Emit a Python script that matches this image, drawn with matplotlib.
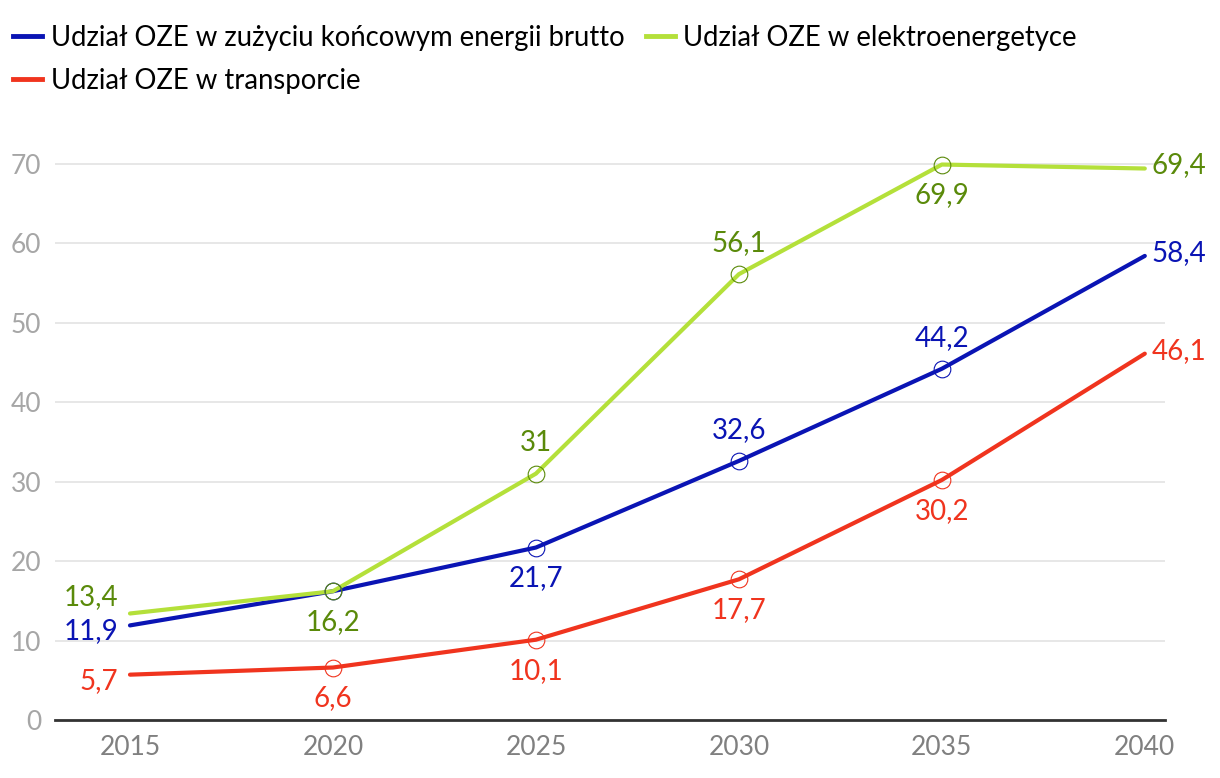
import matplotlib.pyplot as plt
from matplotlib.lines import Line2D

plt.rcParams['font.family'] = ['Lato', 'DejaVu Sans']

years = [2015, 2020, 2025, 2030, 2035, 2040]
brutto = [11.9, 16.2, 21.7, 32.6, 44.2, 58.4]
elektro = [13.4, 16.2, 31.0, 56.1, 69.9, 69.4]
transport = [5.7, 6.6, 10.1, 17.7, 30.2, 46.1]

names = ['Udział OZE w zużyciu końcowym energii brutto',
         'Udział OZE w elektroenergetyce',
         'Udział OZE w transporcie']

blue = '#0a14b4'
green = '#b4e03a'
green_txt = '#5a8a0a'
red = '#f0341e'

# where each label goes: 'l' left, 'r' right, 'a' above, 'b' below, None = no label
pos_brutto = ['l', None, 'b', 'a', 'a', 'r']
pos_elektro = ['la', 'b', 'a', 'a', 'b', 'r']
pos_transport = ['l', 'b', 'b', 'b', 'b', 'r']

fig = plt.figure(figsize=(12.2, 7.78), dpi=100)
ax = fig.add_axes([0.045, 0.0746, 0.91, 0.766])

series = [(brutto, blue, blue, blue, pos_brutto),
          (elektro, green, green_txt, green_txt, pos_elektro),
          (transport, red, red, red, pos_transport)]

for vals, lc, mc, tc, pos in series:
    ax.plot(years, vals, color=lc, lw=3, solid_capstyle='round', zorder=3)
    ax.plot(years[1:-1], vals[1:-1], 'o', ms=12, mfc='none', mec=mc, mew=0.8,
            zorder=4, linestyle='none')
    for x, v, p in zip(years, vals, pos):
        if p is None:
            continue
        txt = ('%g' % v).replace('.', ',')
        if p == 'l':
            off, ha, va = (-12, -6), 'right', 'center'
        elif p == 'la':
            off, ha, va = (-12, 16), 'right', 'center'
        elif p == 'r':
            off, ha, va = (7, 3), 'left', 'center'
        elif p == 'a':
            off, ha, va = (0, 31), 'center', 'center'
        else:
            off, ha, va = (0, -31), 'center', 'center'
        ax.annotate(txt, (x, v), xytext=off, textcoords='offset pixels',
                    ha=ha, va=va, color=tc, fontsize=20, zorder=5)

ax.set_xlim(2013.15, 2040.5)
ax.set_ylim(0, 75)
ax.set_xticks(years)
ax.set_yticks(range(0, 71, 10))
ax.grid(axis='y', color='#e3e3e3', lw=1.2)
ax.set_axisbelow(True)
for s in ['top', 'right', 'left']:
    ax.spines[s].set_visible(False)
ax.spines['bottom'].set_color('#333333')
ax.spines['bottom'].set_linewidth(2)
ax.tick_params(axis='y', length=0, pad=10, labelsize=19, labelcolor='#a6a6a6')
ax.tick_params(axis='x', length=0, pad=11, labelsize=19, labelcolor='#808080')

handles = [Line2D([], [], color=c, lw=3.5) for c in [blue, green, red]]
order = [0, 2, 1]
fig.legend([handles[i] for i in order], [names[i] for i in order], ncol=2,
           loc='upper left', bbox_to_anchor=(0.002, 0.982), frameon=False,
           fontsize=19.8, handlelength=1.05, handletextpad=0.3, columnspacing=0.8,
           labelspacing=0.62, borderaxespad=0.2, borderpad=0.2)

fig.savefig('out.png', dpi=100)
